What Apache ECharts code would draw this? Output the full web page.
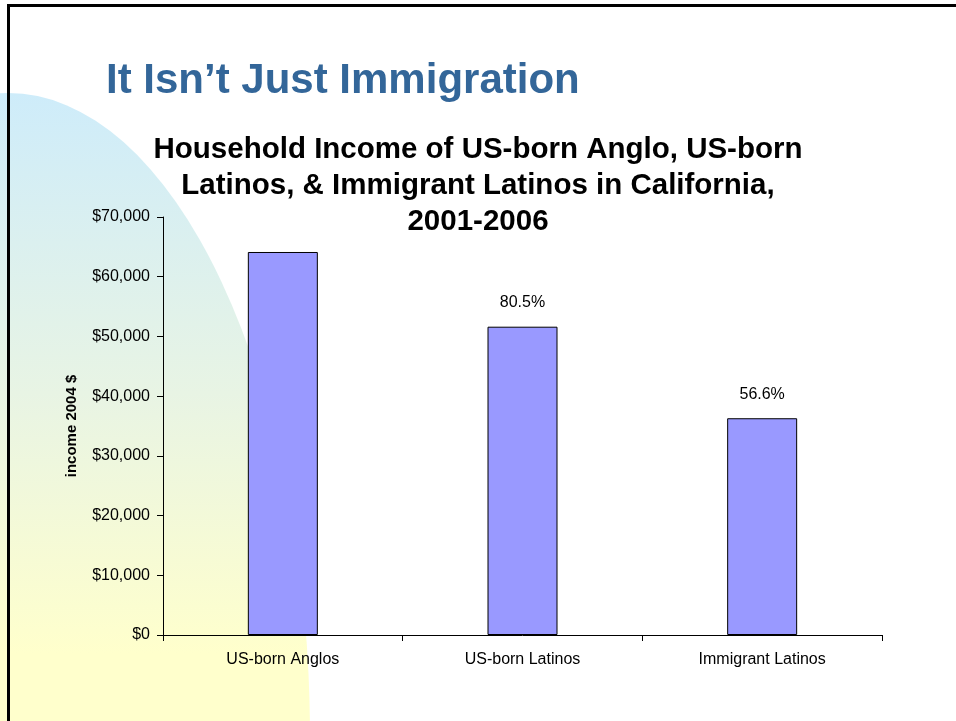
<!DOCTYPE html>
<html>
<head>
<meta charset="utf-8">
<script src="https://cdn.jsdelivr.net/npm/echarts@6/dist/echarts.min.js"></script>
<style>
  html, body { margin: 0; padding: 0; background: #fff; }
  #slide { position: relative; width: 956px; height: 721px; overflow: hidden; background: #fff; }
  #deco {
    position: absolute; left: -294px; top: 93px; width: 604px; height: 1290px;
    border-radius: 50%;
    background: linear-gradient(to bottom, #CEECFA 0px, #E8F4E4 300px, #FFFFCC 560px);
  }
  #frame {
    position: absolute; left: 7px; top: 4px; right: -10px; bottom: -10px;
    border-left: 3px solid #000; border-top: 3px solid #000;
  }
  #main { position: absolute; left: 0; top: 0; width: 956px; height: 721px; }
</style>
</head>
<body>
<div id="slide">
  <div id="deco"></div>
  <div id="frame"></div>
  <div id="main"></div>
</div>
<script>
var categories = ['US-born Anglos', 'US-born Latinos', 'Immigrant Latinos'];
var incomes = [64140, 51630, 36300];
var shareLabels = ['', '80.5%', '56.6%'];
var yTicks = [0, 10000, 20000, 30000, 40000, 50000, 60000, 70000];

var FONT = 'Liberation Sans, Arial, sans-serif';
var chart = echarts.init(document.getElementById('main'), null, {renderer: 'canvas'});

function money(v) {
  return '$' + v.toString().replace(/\B(?=(\d{3})+(?!\d))/g, ',');
}

var barData = incomes.map(function (v, i) {
  return {
    value: v,
    label: {
      show: shareLabels[i] !== '',
      position: 'top',
      distance: 16,
      formatter: shareLabels[i],
      color: '#000',
      fontSize: 16,
      fontFamily: FONT
    }
  };
});

var option = {
  backgroundColor: 'transparent',
  animation: false,
  title: [
    {
      text: 'It Isn\u2019t Just Immigration',
      left: 101,
      top: 55,
      textStyle: {
        color: '#336699',
        fontSize: 42,
        fontWeight: 'bold',
        fontFamily: FONT
      }
    },
    {
      text: 'Household Income of US-born Anglo, US-born\nLatinos, & Immigrant Latinos in California,\n2001-2006',
      left: 473,
      top: 127,
      textAlign: 'center',
      textStyle: {
        color: '#000',
        fontSize: 29.5,
        fontWeight: 'bold',
        lineHeight: 36,
        fontFamily: FONT
      }
    }
  ],
  grid: {
    left: 163,
    right: 74,
    top: 217,
    bottom: 86
  },
  xAxis: {
    type: 'category',
    data: categories,
    axisLine: {lineStyle: {color: '#000', width: 1}},
    axisTick: {show: true, length: 6, lineStyle: {color: '#000'}},
    axisLabel: {
      color: '#000',
      fontSize: 16,
      margin: 17,
      fontFamily: FONT
    }
  },
  yAxis: {
    type: 'value',
    min: yTicks[0],
    max: yTicks[yTicks.length - 1],
    interval: yTicks[1] - yTicks[0],
    name: 'income 2004 $',
    nameLocation: 'middle',
    nameRotate: 90,
    nameGap: 84,
    nameTextStyle: {
      color: '#000',
      fontSize: 15,
      fontWeight: 'bold',
      fontFamily: FONT
    },
    axisLine: {show: true, lineStyle: {color: '#000', width: 1}},
    axisTick: {show: true, length: 6, lineStyle: {color: '#000'}},
    splitLine: {show: false},
    axisLabel: {
      color: '#000',
      fontSize: 16,
      margin: 13,
      formatter: money,
      fontFamily: FONT
    }
  },
  series: [
    {
      name: 'income',
      type: 'bar',
      data: barData,
      barWidth: 70,
      itemStyle: {
        color: '#9999FF',
        borderColor: '#000',
        borderWidth: 1
      }
    }
  ]
};

chart.setOption(option);
</script>
</body>
</html>
